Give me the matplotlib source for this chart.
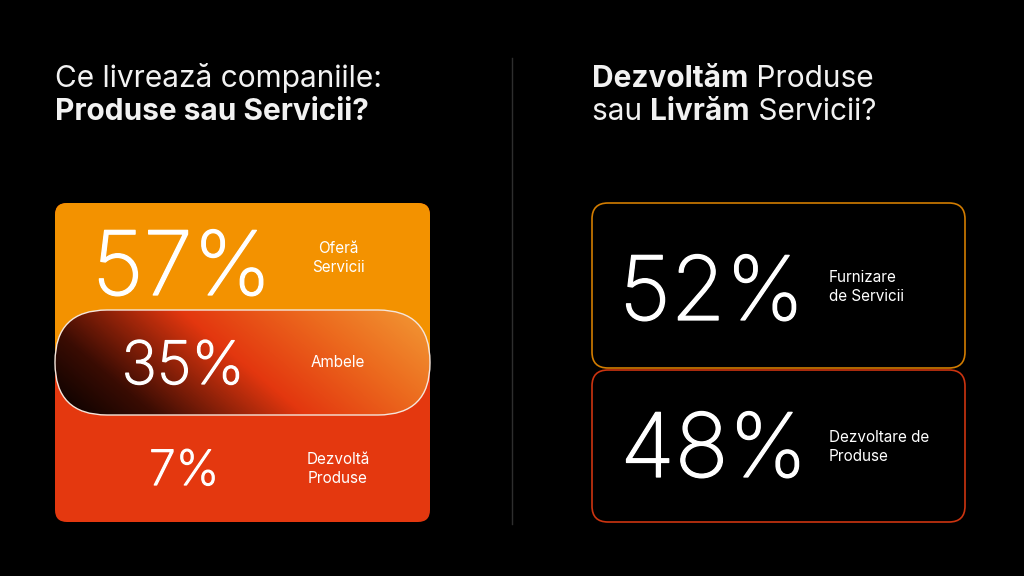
import numpy as np
import matplotlib
matplotlib.use("Agg")
import matplotlib.pyplot as plt
import matplotlib.patheffects as pe
from matplotlib.patches import FancyBboxPatch, Rectangle
from matplotlib.colors import LinearSegmentedColormap

plt.rcParams['font.family'] = ['Inter', 'DejaVu Sans']

# data
left_values = [57, 35, 7]
left_labels = [["Oferă", "Servicii"], ["Ambele"], ["Dezvoltă", "Produse"]]
right_values = [52, 48]
right_labels = [["Furnizare", "de Servicii"], ["Dezvoltare de", "Produse"]]
left_title = [[("Ce livrează companiile:", "normal")],
              [("Produse sau Servicii?", "bold")]]
right_title = [[("Dezvoltăm", "bold"), (" Produse", "normal")],
               [("sau ", "normal"), ("Livrăm", "bold"), (" Servicii?", "normal")]]

ORANGE = '#F39200'
RED = '#E4380F'
BG = '#000000'

fig = plt.figure(figsize=(10.24, 5.76), dpi=100, facecolor=BG)
ax = fig.add_axes([0, 0, 1, 1])
ax.set_xlim(0, 1024)
ax.set_ylim(576, 0)
ax.axis('off')
ax.set_facecolor(BG)

# divider
ax.plot([512, 512], [58, 524], color='#2e2e2e', lw=1)

# titles (mixed weights on one line)
fig.canvas.draw()
renderer = fig.canvas.get_renderer()

def mixed_line(x, y, parts, size=21.5):
    for txt, w in parts:
        t = ax.text(x, y, txt, color='#f2f2f2', fontsize=size, fontweight=w,
                    ha='left', va='baseline')
        bb = t.get_window_extent(renderer=renderer)
        x += bb.width  # 1 data unit == 1 px

mixed_line(55, 87, left_title[0])
mixed_line(55, 120, left_title[1])
mixed_line(592, 87, right_title[0])
mixed_line(592, 120, right_title[1])

# big numbers: light weight thickened a little
thick = [pe.withStroke(linewidth=0.9, foreground='white')]

# left card
lx, ly, lw, lh = 55, 203, 375, 319
card = FancyBboxPatch((lx, ly), lw, lh, boxstyle="round,pad=0,rounding_size=12",
                      facecolor=RED, edgecolor='none')
ax.add_patch(card)
top = Rectangle((lx, ly), lw, 159, facecolor=ORANGE, edgecolor='none')
ax.add_patch(top)
top.set_clip_path(card)

# pill with gradient
px, py, pw, ph = 55, 310, 375, 105
pill = FancyBboxPatch((px, py), pw, ph, boxstyle="round,pad=0,rounding_size=52",
                      facecolor='none', edgecolor='none')
ax.add_patch(pill)
xx, yy = np.meshgrid(np.linspace(0, 1, 300), np.linspace(0, 1, 100))
grad = xx * 0.75 + (1 - yy) * 0.25
cmap = LinearSegmentedColormap.from_list('pill', [(0, '#050100'), (0.2, '#3a0c03'),
                                                  (0.5, '#E3370F'), (0.75, '#EC6A1E'),
                                                  (1, '#F29A35')])
im = ax.imshow(grad, cmap=cmap, extent=[px, px + pw, py + ph, py], aspect='auto',
               origin='upper', zorder=2, interpolation='bilinear')
im.set_clip_path(pill)
ax.add_patch(FancyBboxPatch((px, py), pw, ph, boxstyle="round,pad=0,rounding_size=52",
                            facecolor='none', edgecolor='#f5e6dc', lw=1.0, zorder=3))

left_num_x = [182, 183, 184]
left_num_y = [295, 384, 485]
left_num_size = [64, 43, 35]
left_lab_y = [253, 367, 464]
for v, lab, nx, ny, ns, ly0 in zip(left_values, left_labels, left_num_x, left_num_y,
                                    left_num_size, left_lab_y):
    ax.text(nx, ny, f"{v}%", color='white', fontsize=ns, ha='center', va='baseline',
            fontweight='light', path_effects=thick, zorder=4)
    for i, s in enumerate(lab):
        ax.text(338, ly0 + i * 19, s, color='white', fontsize=11, ha='center',
                va='baseline', zorder=4)

# right cards
rx, rw = 592, 373
right_boxes = [(203, 165), (370, 152)]
right_edges = ['#D27C00', '#CC3410']
right_num_x = [712, 714]
right_num_y = [320, 477]
right_lab_y = [282, 442]
for v, lab, (by, bh), ec, nx, ny, ly0 in zip(right_values, right_labels, right_boxes,
                                              right_edges, right_num_x, right_num_y,
                                              right_lab_y):
    ax.add_patch(FancyBboxPatch((rx, by), rw, bh, boxstyle="round,pad=0,rounding_size=16",
                                facecolor=BG, edgecolor=ec, lw=1.2))
    ax.text(nx, ny, f"{v}%", color='white', fontsize=64, ha='center', va='baseline',
            fontweight='light', path_effects=thick)
    for i, s in enumerate(lab):
        ax.text(829, ly0 + i * 19, s, color='white', fontsize=11, ha='left',
                va='baseline')

fig.savefig('out.png', dpi=100, facecolor=BG)
